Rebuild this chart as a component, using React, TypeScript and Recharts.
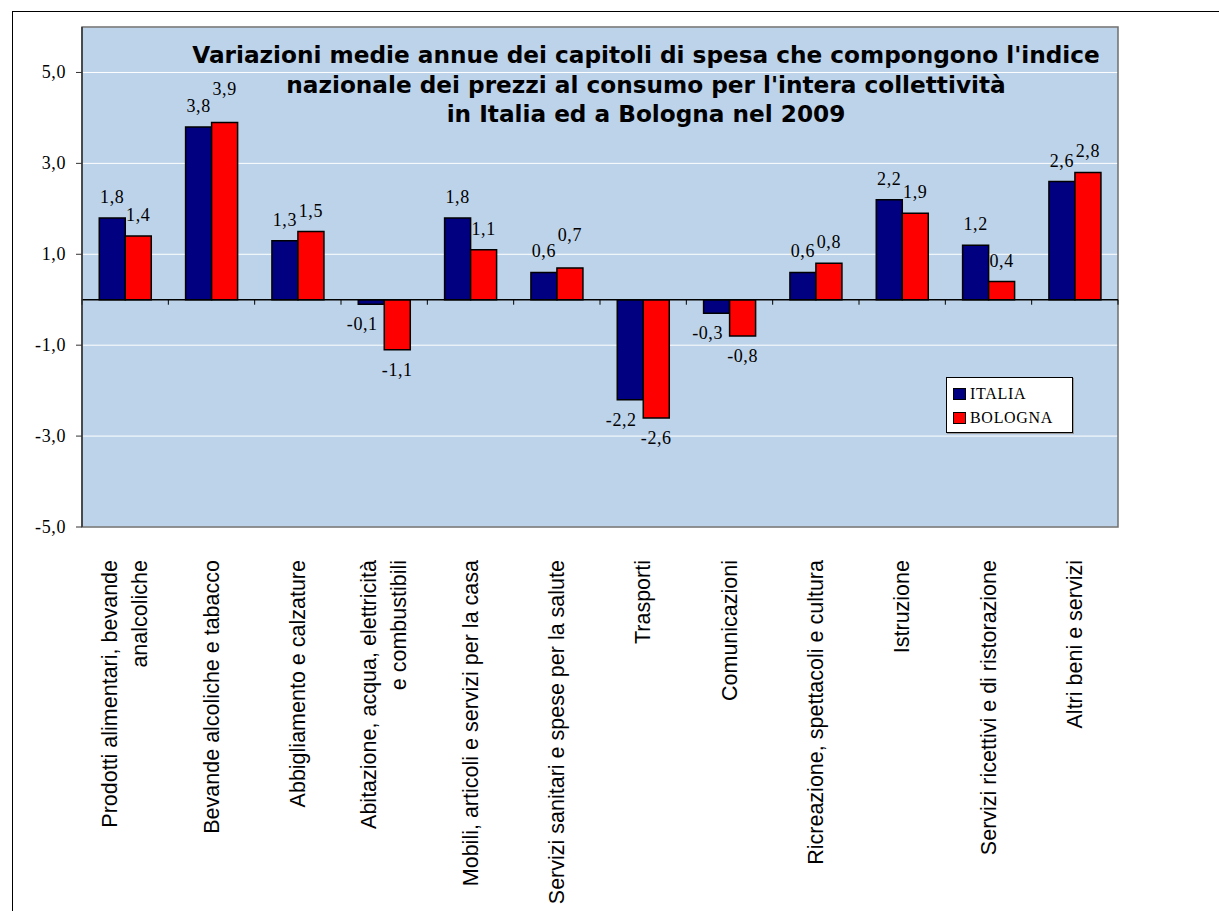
import {
  BarChart,
  Bar,
  XAxis,
  YAxis,
  CartesianGrid,
  Legend,
  LabelList,
  ReferenceLine,
  ReferenceArea,
} from "recharts";

const categories = [
  "Prodotti alimentari, bevande\nanalcoliche",
  "Bevande alcoliche e tabacco",
  "Abbigliamento e calzature",
  "Abitazione, acqua, elettricità\ne combustibili",
  "Mobili, articoli e servizi per la casa",
  "Servizi sanitari e spese per la salute",
  "Trasporti",
  "Comunicazioni",
  "Ricreazione, spettacoli e cultura",
  "Istruzione",
  "Servizi ricettivi e di ristorazione",
  "Altri beni e servizi",
];

const italia = [1.8, 3.8, 1.3, -0.1, 1.8, 0.6, -2.2, -0.3, 0.6, 2.2, 1.2, 2.6];
const bologna = [1.4, 3.9, 1.5, -1.1, 1.1, 0.7, -2.6, -0.8, 0.8, 1.9, 0.4, 2.8];

const yTicks = [-5, -3, -1, 1, 3, 5];

const titleLines = [
  "Variazioni medie annue dei capitoli di spesa che compongono l'indice",
  "nazionale dei prezzi al consumo per l'intera collettività",
  "in Italia ed a Bologna nel 2009",
];

const seriesNames = ["ITALIA", "BOLOGNA"];

const NAVY = "#000080";
const RED = "#ff0000";
const PLOT_BG = "#bdd3e9";
const SERIF = "'Liberation Serif', 'Times New Roman', serif";
const SANS = "'Liberation Sans', Arial, sans-serif";

const chartData = categories.map((name, i) => ({
  name,
  italia: italia[i],
  bologna: bologna[i],
}));

const fmt = (v: number) => v.toFixed(1).replace(".", ",");

function ValueLabel(props: any) {
  const vb = props.viewBox || {};
  const x = props.x ?? vb.x;
  const y = props.y ?? vb.y;
  const width = props.width ?? vb.width;
  const height = props.height ?? vb.height;
  const value = Number(props.value);
  const top = Math.min(y, y + height);
  const bottom = Math.max(y, y + height);
  let ly = value >= 0 ? top - 21 : bottom + 20;
  // nudge a label up when it would sit level with its neighbour's label
  if (props.neighbour && value > 0 && value !== 0) {
    const other = props.neighbour[props.index];
    const ppu = Math.abs(height) / Math.abs(value);
    const diff = (value - other) * ppu;
    if (other > 0 && diff > 0 && diff < 6) ly -= 12;
  }
  const dx = value < 0 ? props.negDx ?? 0 : 0;
  return (
    <text
      x={x + width / 2 + dx}
      y={ly}
      textAnchor="middle"
      dominantBaseline="central"
      fontFamily={SERIF}
      fontSize={18}
      letterSpacing={0.6}
      fill="#000"
    >
      {fmt(value)}
    </text>
  );
}

function YTick(props: any) {
  const { x, y, payload } = props;
  return (
    <text
      x={x}
      y={y}
      textAnchor="end"
      dominantBaseline="central"
      fontFamily={SERIF}
      fontSize={18}
      letterSpacing={0.6}
      fill="#000"
    >
      {fmt(Number(payload.value))}
    </text>
  );
}

function CategoryTick(props: any) {
  const { x, y, payload } = props;
  const lines = String(payload.value).split("\n");
  const endY = y + 33;
  return (
    <g>
      {lines.map((line, i) => {
        const lx = x + (i - (lines.length - 1) / 2) * 30 + 7;
        return (
          <text
            key={i}
            x={lx}
            y={endY}
            transform={`rotate(-90 ${lx} ${endY})`}
            textAnchor="end"
            fontFamily={SANS}
            fontSize={21.5}
            fill="#000"
          >
            {line}
          </text>
        );
      })}
    </g>
  );
}

// zero line with the small category separators hanging below it
function ZeroLine(props: any) {
  const { x1, y1, x2, y2 } = props;
  const n = categories.length;
  const step = (x2 - x1) / n;
  return (
    <g>
      <line x1={x1} y1={y1} x2={x2} y2={y2} stroke="#000" strokeWidth={1.5} />
      {Array.from({ length: n + 1 }, (_, i) => (
        <line
          key={i}
          x1={x1 + i * step}
          y1={y1}
          x2={x1 + i * step}
          y2={y1 + 5}
          stroke="#000"
          strokeWidth={1}
        />
      ))}
    </g>
  );
}

function LegendBox() {
  const colors = [NAVY, RED];
  return (
    <div
      style={{
        width: 127,
        height: 56,
        boxSizing: "border-box",
        border: "1px solid #000",
        background: "#fff",
        boxShadow: "1px 1px 0 #999",
        paddingTop: 5,
        paddingLeft: 6,
      }}
    >
      {seriesNames.map((s, i) => (
        <div
          key={s}
          style={{ display: "flex", alignItems: "center", height: 27 - (i === 0 ? 6 : 0) }}
        >
          <span
            style={{
              display: "inline-block",
              width: 11,
              height: 10,
              background: colors[i],
              border: "1px solid #000",
              marginRight: 4,
            }}
          />
          <span
            style={{
              fontFamily: SERIF,
              fontSize: 16,
              letterSpacing: 0.7,
              color: "#000",
              lineHeight: 1,
            }}
          >
            {s}
          </span>
        </div>
      ))}
    </div>
  );
}

export default function App() {
  return (
    <div
      style={{
        position: "absolute",
        left: 0,
        top: 0,
        width: 1219,
        height: 911,
        overflow: "hidden",
        background: "#fff",
      }}
    >
      <div
        style={{
          position: "absolute",
          left: 12,
          top: 11,
          width: 1300,
          height: 1000,
          border: "1px solid #000",
        }}
      />
      <div style={{ position: "absolute", left: 0, top: 0 }}>
        <BarChart
          width={1219}
          height={911}
          data={chartData}
          margin={{ top: 27, right: 101, left: 22, bottom: 14 }}
          barCategoryGap="20%"
          barGap={0}
        >
          <CartesianGrid vertical={false} stroke="#fff" strokeWidth={1} fill={PLOT_BG} />
          <ReferenceArea y1={-5} y2={6} fill="none" stroke="#6f6f6f" strokeWidth={1.5} />
          <XAxis
            dataKey="name"
            interval={0}
            axisLine={false}
            tickLine={false}
            tickSize={0}
            tickMargin={0}
            height={370}
            tick={<CategoryTick />}
          />
          <YAxis
            type="number"
            domain={[-5, 6]}
            ticks={yTicks}
            width={60}
            axisLine={{ stroke: "#333", strokeWidth: 1.5 }}
            tickLine={{ stroke: "#333" }}
            tickSize={6}
            tickMargin={10}
            tick={<YTick />}
          />
          <Legend
            layout="vertical"
            align="center"
            verticalAlign="middle"
            content={<LegendBox />}
            wrapperStyle={{ left: 946, top: 377, width: 127, height: 56 }}
          />
          <Bar dataKey="italia" name="ITALIA" fill={NAVY} stroke="#000" strokeWidth={1.5} isAnimationActive={false}>
            <LabelList dataKey="italia" content={<ValueLabel negDx={-9} />} />
          </Bar>
          <Bar dataKey="bologna" name="BOLOGNA" fill={RED} stroke="#000" strokeWidth={1.5} isAnimationActive={false}>
            <LabelList dataKey="bologna" content={<ValueLabel neighbour={italia} />} />
          </Bar>
          <ReferenceLine y={0} shape={<ZeroLine />} />
        </BarChart>
      </div>
      <div
        style={{
          position: "absolute",
          left: 0,
          width: 1292,
          top: 40,
          textAlign: "center",
          fontFamily: "'DejaVu Sans', Verdana, sans-serif",
          fontWeight: "bold",
          fontSize: 23.2,
          lineHeight: "29.5px",
          color: "#000",
        }}
      >
        {titleLines.map((t) => (
          <div key={t}>{t}</div>
        ))}
      </div>
    </div>
  );
}
